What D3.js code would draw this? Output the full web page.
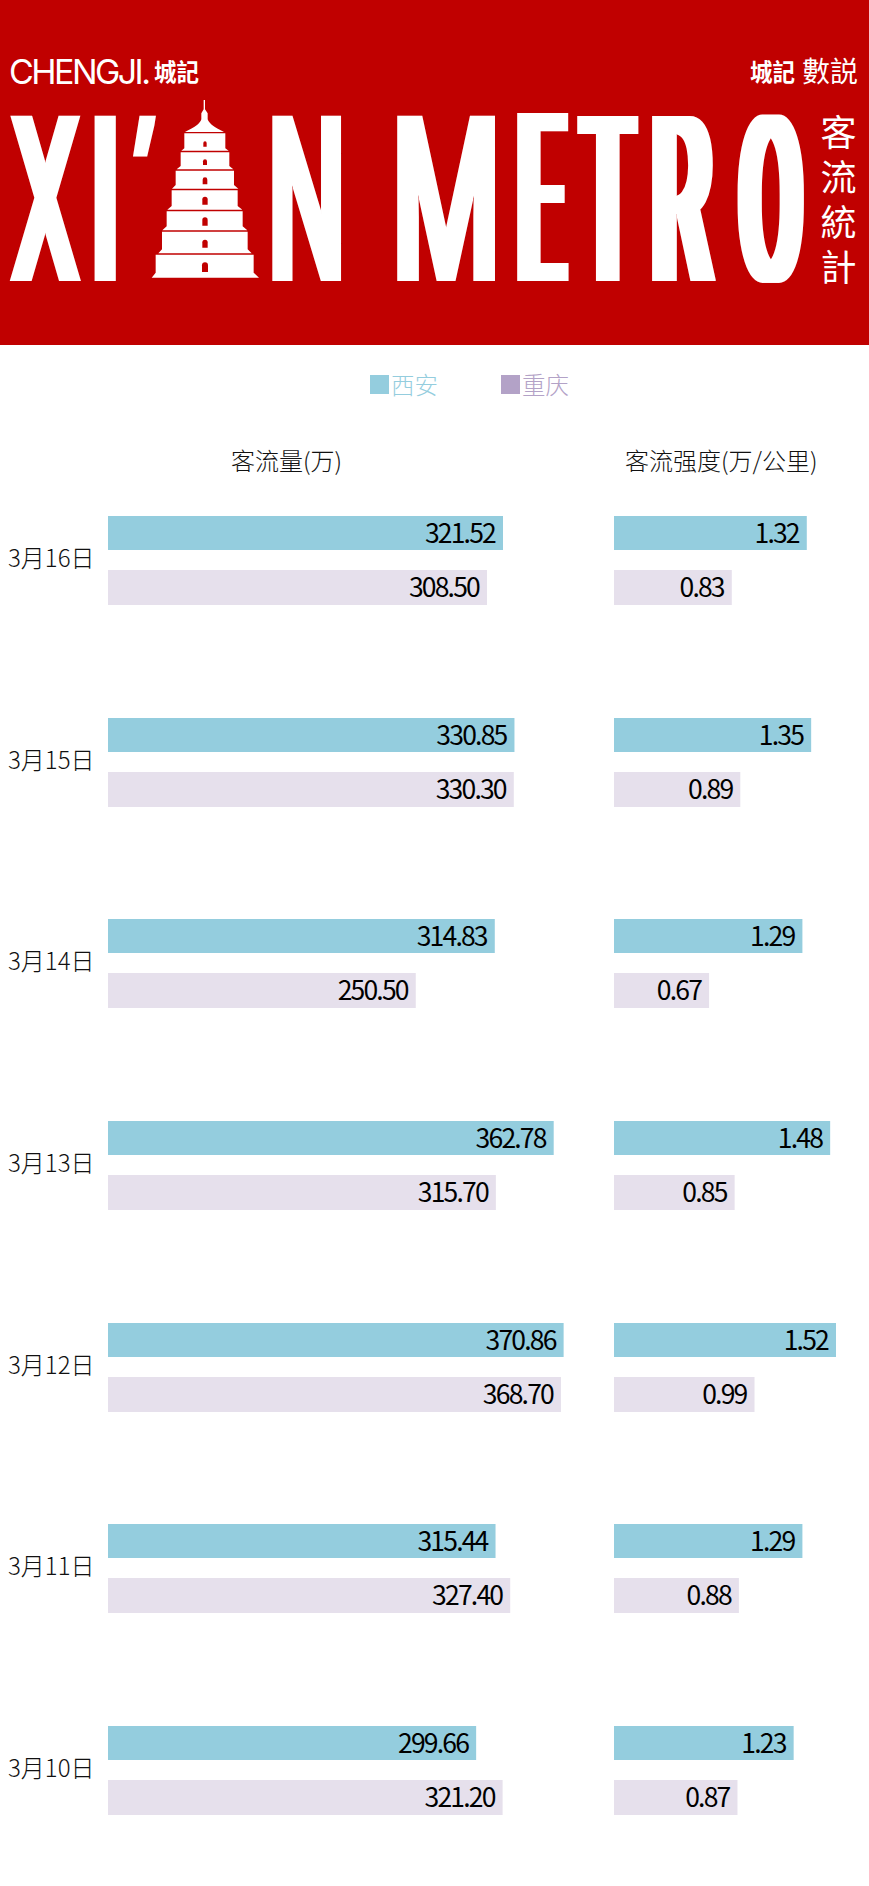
<!DOCTYPE html>
<html lang="zh">
<head>
  <meta charset="utf-8">
  <title>Xi'an Metro</title>
  <script src="https://d3js.org/d3.v7.min.js"></script>
  <style type="text/css">
    html, body { margin: 0; padding: 0; background: #fff; }
    svg { display: block; }
    text { font-family: "Noto Sans CJK SC", "Noto Sans", sans-serif; }
    .tc { font-family: "Noto Sans CJK TC", "Noto Sans", sans-serif; }
  </style>
</head>
<body>
  <div id="chart"></div>
  <script type="text/javascript">
    const w = 869;
    const h = 1886;

    const dates = ["3月16日", "3月15日", "3月14日", "3月13日", "3月12日", "3月11日", "3月10日"];
    const seriesNames = ["西安", "重庆"];
    const xianFlow = [321.52, 330.85, 314.83, 362.78, 370.86, 315.44, 299.66];
    const cqFlow = [308.50, 330.30, 250.50, 315.70, 368.70, 327.40, 321.20];
    const xianIntensity = [1.32, 1.35, 1.29, 1.48, 1.52, 1.29, 1.23];
    const cqIntensity = [0.83, 0.89, 0.67, 0.85, 0.99, 0.88, 0.87];

    const barColor = { "西安": "#94cdde", "重庆": "#e6e0ec" };
    const legendColor = { "西安": "#94cdde", "重庆": "#b3a2c7" };

    const svg = d3.select("#chart").append("svg")
      .attr("width", w)
      .attr("height", h);

    // ---- header ----
    svg.append("rect").attr("width", w).attr("height", 345).attr("fill", "#c00000");

    // title letters get fattened sideways only, the original face is a tall condensed one
    const defs = svg.append("defs");
    [5, 8].forEach(r => {
      defs.append("filter")
        .attr("id", "fatten" + r)
        .attr("filterUnits", "userSpaceOnUse")
        .attr("x", 0).attr("y", 90).attr("width", w).attr("height", 210)
        .append("feMorphology")
        .attr("operator", "dilate")
        .attr("radius", r + " 0");
    });

    const title = svg.append("g").attr("fill", "#fff");
    const ctx = document.createElement("canvas").getContext("2d");
    ctx.font = "100px Roboto";

    function fitLetter(ch, x0, x1, y0, y1, smear, skew) {
      const m = ctx.measureText(ch);
      const inkW = m.actualBoundingBoxRight + m.actualBoundingBoxLeft;
      const inkH = m.actualBoundingBoxAscent + m.actualBoundingBoxDescent;
      const sx = (x1 - x0 - 2 * smear) / inkW;
      const sy = (y1 - y0) / inkH;
      const tx = x0 + smear + m.actualBoundingBoxLeft * sx;
      const base = y0 + m.actualBoundingBoxAscent * sy;
      const g = title.append("g");
      if (smear) g.attr("filter", `url(#fatten${smear})`);
      g.append("text")
        .attr("transform", `translate(${tx},${y1}) skewX(${-(skew || 0)}) translate(0,${base - y1}) scale(${sx},${sy})`)
        .style("font-family", "Roboto")
        .style("font-size", "100px")
        .text(ch);
    }

    fitLetter("X", 9, 82, 114, 281, 5);
    fitLetter("I", 94, 116, 114, 281, 8);
    fitLetter("'", 133, 151, 114, 156, 0, 9);
    fitLetter("N", 272, 341, 114, 281, 5);
    fitLetter("M", 397, 495, 114, 281, 5);
    fitLetter("E", 517, 569, 114, 281, 8);
    fitLetter("T", 577, 639, 114, 281, 8);
    fitLetter("R", 652, 716, 114, 281, 8);
    fitLetter("O", 737, 804, 112, 283, 8);

    // pagoda stands in for the A, drawn in zoomed units then scaled down
    const tiers = [
      [133, 256, 130, 175, 124, 266, 182],
      [122, 268, 187, 228, 110, 280, 238],
      [107, 282, 242, 285, 96, 295, 296],
      [95, 293, 301, 348, 82, 307, 359],
      [80, 308, 364, 409, 67, 322, 421],
      [66, 323, 425, 478, 55, 335, 490],
      [47, 341, 494, 548, 35, 357, 563]
    ];
    const doors = [[10, 154, 170], [12, 208, 225], [14, 262, 283], [16, 320, 344], [16, 382, 407], [16, 449, 473], [18, 517, 546]];
    const pagoda = svg.append("g").attr("transform", "translate(140,90) scale(0.3333)");
    pagoda.append("path").attr("fill", "#fff")
      .attr("d", "M191,30 L195,30 L195,58 L203,70 L203,88 C208,102 225,113 252,126 L135,126 C162,113 180,102 184,88 L184,70 L191,58 Z");
    pagoda.selectAll("path.tier").data(tiers).enter().append("path")
      .attr("class", "tier")
      .attr("fill", "#fff")
      .attr("d", t => `M${t[0]},${t[2]} L${t[1]},${t[2]} L${t[1]},${t[3]} L${t[5]},${t[6]} L${t[4]},${t[6]} L${t[0]},${t[3]} Z`);
    pagoda.selectAll("path.door").data(doors).enter().append("path")
      .attr("class", "door")
      .attr("fill", "#c00000")
      .attr("d", d => {
        const r = d[0] / 2;
        return `M${195 - r},${d[2]} L${195 - r},${d[1] + r} A${r},${r} 0 0 1 ${195 + r},${d[1] + r} L${195 + r},${d[2]} Z`;
      });

    // logo text
    svg.append("text")
      .attr("x", 9).attr("y", 84)
      .attr("textLength", 142)
      .attr("lengthAdjust", "spacing")
      .attr("fill", "#fff")
      .style("font-family", "Inter")
      .style("font-size", "34px")
      .style("font-weight", 400)
      .text("CHENGJI.");
    svg.append("text").attr("class", "tc")
      .attr("x", 154).attr("y", 81)
      .attr("textLength", 45)
      .attr("lengthAdjust", "spacingAndGlyphs")
      .attr("fill", "#fff")
      .style("font-size", "24px")
      .style("font-weight", 700)
      .text("城記");
    svg.append("text").attr("class", "tc")
      .attr("x", 750).attr("y", 81)
      .attr("textLength", 45)
      .attr("lengthAdjust", "spacingAndGlyphs")
      .attr("fill", "#fff")
      .style("font-size", "24px")
      .style("font-weight", 700)
      .text("城記");
    svg.append("text").attr("class", "tc")
      .attr("x", 802).attr("y", 82)
      .attr("fill", "#fff")
      .style("font-size", "28px")
      .style("font-weight", 400)
      .text("數説");

    svg.selectAll("text.side").data(["客", "流", "統", "計"]).enter().append("text")
      .attr("class", "side tc")
      .attr("x", 838.5)
      .attr("y", (d, i) => 146 + i * 45)
      .attr("text-anchor", "middle")
      .attr("fill", "#fff")
      .style("font-size", "36px")
      .text(d => d);

    // ---- legend ----
    const legendX = d3.scalePoint().domain(seriesNames).range([370, 501]);
    const legend = svg.selectAll("g.legend").data(seriesNames).enter().append("g")
      .attr("class", "legend")
      .attr("transform", d => `translate(${legendX(d)},375)`);
    legend.append("rect")
      .attr("width", 19)
      .attr("height", 19)
      .attr("fill", d => legendColor[d]);
    legend.append("text")
      .attr("x", 21)
      .attr("y", 19)
      .attr("fill", d => legendColor[d])
      .style("font-size", "23.5px")
      .style("font-weight", 300)
      .text(d => d);

    // ---- column titles ----
    svg.append("text")
      .attr("x", 231).attr("y", 470)
      .attr("fill", "#111")
      .style("font-size", "24px")
      .style("font-weight", 300)
      .text("客流量(万)");
    svg.append("text")
      .attr("x", 625).attr("y", 470)
      .attr("fill", "#111")
      .style("font-size", "24px")
      .style("font-weight", 300)
      .text("客流强度(万/公里)");

    // ---- bars ----
    const rowScale = d3.scaleBand().domain(dates).range([516, 516 + 7 * 201.67]);
    const seriesScale = d3.scaleBand().domain(seriesNames).range([0, 89]).paddingInner(20 / 54.5);

    // the two intensity columns are not drawn to quite the same scale in the picture
    const flowX = d3.scaleLinear().domain([0, 321.52]).range([0, 395]);
    const xianIntX = d3.scaleLinear().domain([0, 1.52]).range([0, 222]);
    const cqIntX = d3.scaleLinear().domain([0, 0.99]).range([0, 140.5]);

    const flowRows = [];
    dates.forEach((d, i) => {
      flowRows.push({ date: d, name: "西安", left: 108, width: flowX(xianFlow[i]), label: xianFlow[i].toFixed(2) });
      flowRows.push({ date: d, name: "重庆", left: 108, width: flowX(cqFlow[i]), label: cqFlow[i].toFixed(2) });
      flowRows.push({ date: d, name: "西安", left: 614, width: xianIntX(xianIntensity[i]), label: xianIntensity[i].toFixed(2) });
      flowRows.push({ date: d, name: "重庆", left: 614, width: cqIntX(cqIntensity[i]), label: cqIntensity[i].toFixed(2) });
    });

    const bars = svg.selectAll("g.bar").data(flowRows).enter().append("g")
      .attr("class", "bar")
      .attr("transform", d => `translate(${d.left},${Math.round(rowScale(d.date)) + Math.floor(seriesScale(d.name))})`);
    bars.append("rect")
      .attr("width", d => d.width)
      .attr("height", d => Math.floor(seriesScale(d.name) + seriesScale.bandwidth()) - Math.floor(seriesScale(d.name)))
      .attr("fill", d => barColor[d.name]);
    bars.append("text")
      .attr("x", d => d.width - 8)
      .attr("y", 27)
      .attr("text-anchor", "end")
      .attr("fill", "#000")
      .style("font-size", "26.5px")
      .style("letter-spacing", "-1.8px")
      .text(d => d.label);

    svg.selectAll("text.date").data(dates).enter().append("text")
      .attr("class", "date")
      .attr("x", 8)
      .attr("y", d => rowScale(d) + 51)
      .attr("fill", "#111")
      .style("font-size", "24px")
      .style("font-weight", 300)
      .text(d => d);
  </script>
</body>
</html>
